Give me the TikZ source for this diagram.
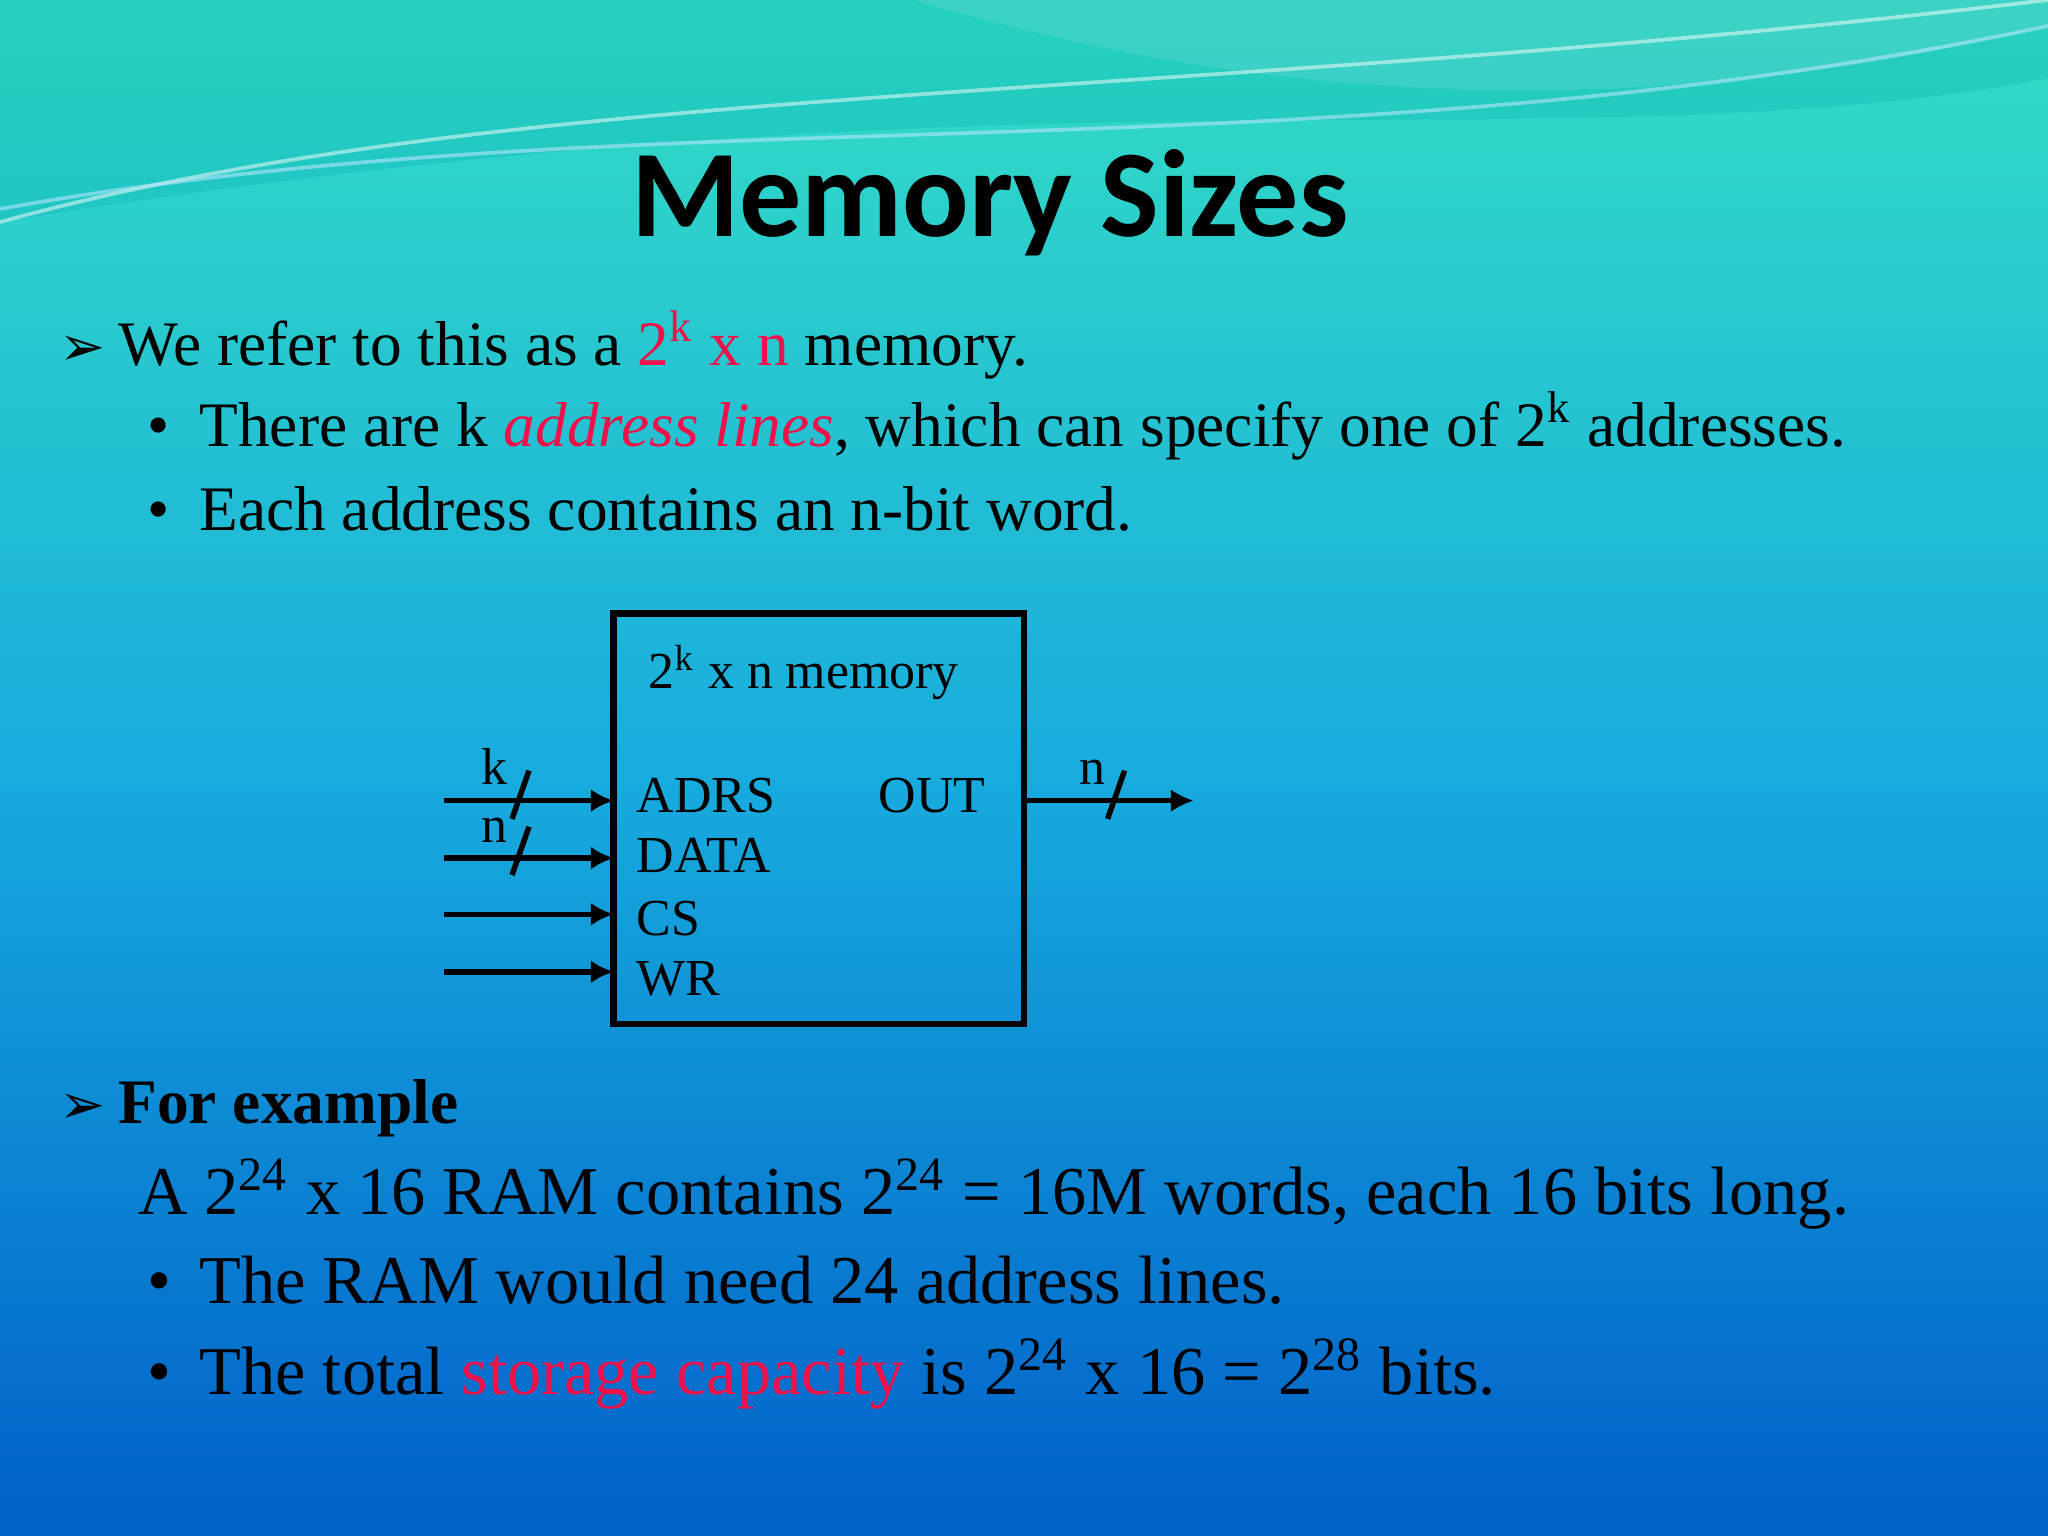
\documentclass[tikz,border=0pt]{standalone}
\usepackage{fontspec}
\setmainfont{Liberation Serif}
\newfontfamily\titlefont{Carlito}
\newfontfamily\symfont{DejaVu Sans}
\usetikzlibrary{arrows.meta}
\definecolor{redt}{HTML}{F0104A}
\tikzset{
 sig/.style={line width=1.2pt,-{Latex[length=5pt,width=5pt]}},
 slashm/.style={line width=1.2pt},
 body/.style={anchor=base west,font=\fontsize{13.8}{16}\selectfont,inner sep=0},
 big/.style={anchor=base west,font=\fontsize{14.9}{17}\selectfont,inner sep=0},
 dia/.style={anchor=base west,font=\fontsize{11.3}{13}\selectfont,inner sep=0},
}
\begin{document}
\begin{tikzpicture}[x=0.01cm,y=-0.01cm]
\useasboundingbox (0,0) rectangle (1568,1176);
\shade[top color={rgb,255:red,52;green,222;blue,196}, bottom color={rgb,255:red,0;green,96;blue,200}, middle color={rgb,255:red,24;green,172;blue,222}] (0,0) rectangle (1568,1176);
\fill[white,opacity=0.15] (700,0) .. controls (900,60) and (1200,110) .. (1568,20) -- (1568,0) -- cycle;
\fill[cyan!60!green,opacity=0.25] (0,0) rectangle (1568,0) -- (1568,60) .. controls (1200,130) and (800,40) .. (0,170) -- (0,0);
\draw[white,opacity=0.5,line width=0.8pt] (0,170) .. controls (400,60) and (900,80) .. (1568,0);
\draw[cyan!30,opacity=0.6,line width=0.8pt] (0,160) .. controls (500,70) and (1000,140) .. (1568,20);
\node[font=\titlefont\bfseries\fontsize{27}{30}\selectfont] (title) at (758,155) {Memory Sizes};
\node[anchor=base west,inner sep=0,font=\symfont\fontsize{12}{12}\selectfont] (b1) at (45,280) {➢};
\node[body] (l1) at (90,280) {We refer to this as a \textcolor{redt}{2\textsuperscript{k} x n} memory.};
\node[body] (d1) at (112,342) {•};
\node[body] (l2) at (152,342) {There are k \textcolor{redt}{\itshape address lines}, which can specify one of 2\textsuperscript{k} addresses.};
\node[body] (d2) at (112,406) {•};
\node[body] (l3) at (152,406) {Each address contains an n-bit word.};
% diagram
\draw[line width=1.5pt] (470,470) rectangle (784,784);
\node[dia] (ttl) at (496,527) {2\textsuperscript{k} x n memory};
\node[dia] (adrs) at (487,622) {ADRS};
\node[dia] (data) at (487,668) {DATA};
\node[dia] (cs) at (487,716) {CS};
\node[dia] (wr) at (487,762) {WR};
\node[dia] (out) at (672,622) {OUT};
\coordinate (i1) at (340,613); \coordinate (e1) at (470,613);
\coordinate (i2) at (340,657); \coordinate (e2) at (470,657);
\coordinate (i3) at (340,700); \coordinate (e3) at (470,700);
\coordinate (i4) at (340,744); \coordinate (e4) at (470,744);
\coordinate (o1) at (784,613); \coordinate (o2) at (914,613);
\draw[sig] (i1) -- (e1); \draw[sig] (i2) -- (e2); \draw[sig] (i3) -- (e3); \draw[sig] (i4) -- (e4);
\draw[sig] (o1) -- (o2);
\draw[slashm] (392,627) -- (405,590);
\draw[slashm] (392,670) -- (405,633);
\draw[slashm] (848,627) -- (861,590);
\node[dia] (k) at (368,601) {k};
\node[dia] (n1) at (368,645) {n};
\node[dia] (n2) at (826,601) {n};
% example
\node[anchor=base west,inner sep=0,font=\symfont\fontsize{12}{12}\selectfont] (b2) at (45,860) {➢};
\node[body,font=\bfseries\fontsize{13.8}{16}\selectfont] (fe) at (90,860) {For example};
\node[big] (ex1) at (105,930) {A 2\textsuperscript{24} x 16 RAM contains 2\textsuperscript{24} = 16M words, each 16 bits long.};
\node[big] (d3) at (112,998) {•};
\node[big] (ex2) at (152,998) {The RAM would need 24 address lines.};
\node[big] (d4) at (112,1068) {•};
\node[big] (ex3) at (152,1068) {The total \textcolor{redt}{storage capacity} is 2\textsuperscript{24} x 16 = 2\textsuperscript{28} bits.};
\end{tikzpicture}
\end{document}
